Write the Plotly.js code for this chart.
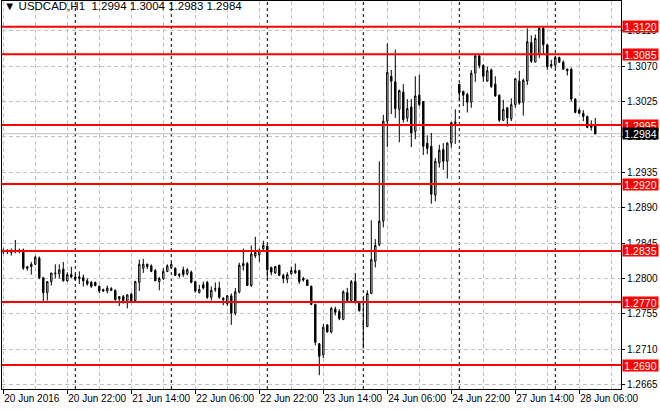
<!DOCTYPE html>
<html>
<head>
<meta charset="utf-8">
<script src="https://cdn.plot.ly/plotly-3.0.1.min.js"></script>
<style>html,body{margin:0;padding:0;background:#fff;}#chart{width:660px;height:410px;}</style>
</head>
<body>
<div id="chart"></div>
<script>
// ---- data ----
const symbol = 'USDCAD,H1';
const year = '2016';
const days = ['20 Jun', '21 Jun', '22 Jun', '23 Jun', '24 Jun', '27 Jun', '28 Jun'];
const firstHour = 6;   // first bar: 20 Jun 06:00
const lastHour = 10;   // last bar: 28 Jun 10:00

const open = [
1.2835,1.2834,1.2836,1.2834,1.2836,1.2836,1.2813,1.2815,1.2818,1.2826,
1.2801,1.2782,1.2796,1.2807,1.2806,1.2812,1.2797,1.2805,1.2802,1.2800,
1.2801,1.2797,1.2795,1.2795,1.2790,1.2786,1.2784,1.2787,1.2785,1.2774,
1.2777,1.2771,1.2780,1.2772,1.2795,1.2813,1.2818,1.2816,1.2810,1.2796,
1.2800,1.2809,1.2814,1.2813,1.2805,1.2811,1.2806,1.2808,1.2796,1.2782,
1.2792,1.2795,1.2776,1.2786,1.2788,1.2775,1.2768,1.2778,1.2756,1.2783,
1.2816,1.2819,1.2791,1.2829,1.2830,1.2838,1.2841,1.2814,1.2807,1.2817,
1.2804,1.2799,1.2806,1.2807,1.2810,1.2800,1.2798,1.2790,1.2767,1.2717,
1.2703,1.2741,1.2732,1.2761,1.2758,1.2748,1.2782,1.2772,1.2796,1.2770,
1.2742,1.2739,1.2781,1.2822,1.2843,1.2873,1.3000,1.3057,1.3050,1.3015,
1.3037,1.3004,1.3018,1.2987,1.3033,1.3025,1.2972,1.2968,1.2906,1.2947,
1.2964,1.2949,1.2972,1.2997,1.3047,1.3038,1.3034,1.3024,1.3061,1.3083,
1.3071,1.3051,1.3065,1.3047,1.3033,1.3001,1.3017,1.3003,1.3021,1.3051,
1.3024,1.3051,1.3100,1.3075,1.3085,1.3118,1.3097,1.3072,1.3071,1.3081,
1.3075,1.3066,1.3066,1.3028,1.3014,1.3010,1.3006,1.2996,1.2994];
const high = [
1.2838,1.2837,1.2838,1.2849,1.2838,1.2838,1.2816,1.2821,1.2829,1.2828,
1.2802,1.2796,1.2807,1.2818,1.2818,1.2821,1.2808,1.2815,1.2806,1.2809,
1.2805,1.2800,1.2797,1.2796,1.2791,1.2787,1.2791,1.2789,1.2786,1.2777,
1.2779,1.2780,1.2782,1.2797,1.2824,1.2825,1.2819,1.2818,1.2812,1.2802,
1.2813,1.2818,1.2820,1.2814,1.2807,1.2815,1.2813,1.2810,1.2797,1.2792,
1.2796,1.2797,1.2790,1.2795,1.2796,1.2776,1.2779,1.2781,1.2788,1.2820,
1.2838,1.2821,1.2842,1.2853,1.2838,1.2848,1.2843,1.2815,1.2816,1.2817,
1.2806,1.2808,1.2815,1.2819,1.2811,1.2802,1.2799,1.2791,1.2768,1.2718,
1.2742,1.2742,1.2764,1.2764,1.2761,1.2785,1.2788,1.2798,1.2807,1.2770,
1.2775,1.2785,1.2874,1.2850,1.2949,1.3008,1.3099,1.3065,1.3091,1.3040,
1.3047,1.3028,1.3028,1.3057,1.3059,1.3025,1.2982,1.2985,1.2953,1.2970,
1.2972,1.2973,1.2999,1.3015,1.3047,1.3038,1.3036,1.3065,1.3084,1.3084,
1.3072,1.3069,1.3067,1.3057,1.3034,1.3027,1.3018,1.3029,1.3054,1.3064,
1.3054,1.3118,1.3109,1.3110,1.3119,1.3119,1.3098,1.3078,1.3082,1.3082,
1.3077,1.3067,1.3068,1.3029,1.3016,1.3014,1.3007,1.3001,1.3004];
const low = [
1.2831,1.2831,1.2829,1.2832,1.2832,1.2811,1.2810,1.2805,1.2817,1.2799,
1.2771,1.2772,1.2791,1.2800,1.2800,1.2796,1.2796,1.2800,1.2798,1.2793,
1.2790,1.2791,1.2788,1.2790,1.2781,1.2783,1.2781,1.2784,1.2772,1.2765,
1.2768,1.2762,1.2770,1.2770,1.2784,1.2807,1.2812,1.2808,1.2797,1.2785,
1.2798,1.2808,1.2812,1.2803,1.2801,1.2802,1.2804,1.2794,1.2782,1.2781,
1.2786,1.2774,1.2772,1.2783,1.2774,1.2766,1.2765,1.2741,1.2753,1.2781,
1.2810,1.2791,1.2789,1.2826,1.2821,1.2836,1.2798,1.2804,1.2806,1.2803,
1.2794,1.2794,1.2805,1.2806,1.2793,1.2796,1.2791,1.2766,1.2715,1.2677,
1.2699,1.2731,1.2730,1.2753,1.2747,1.2747,1.2772,1.2770,1.2768,1.2758,
1.2711,1.2738,1.2780,1.2814,1.2841,1.2865,1.2967,1.3009,1.3004,1.2973,
1.2998,1.2999,1.2967,1.2977,1.3019,1.2957,1.2958,1.2895,1.2898,1.2941,
1.2938,1.2927,1.2966,1.2971,1.3026,1.3019,1.3011,1.3017,1.3050,1.3067,
1.3050,1.3050,1.3042,1.3031,1.2999,1.3000,1.2993,1.3000,1.3017,1.3021,
1.3007,1.3046,1.3074,1.3075,1.3080,1.3085,1.3065,1.3067,1.3067,1.3074,
1.3065,1.3058,1.3025,1.3010,1.3009,1.3000,1.2991,1.2988,1.2983];
const close = [
1.2834,1.2836,1.2833,1.2836,1.2835,1.2813,1.2815,1.2818,1.2827,1.2801,
1.2782,1.2796,1.2807,1.2806,1.2811,1.2797,1.2805,1.2802,1.2799,1.2802,
1.2797,1.2793,1.2790,1.2791,1.2784,1.2784,1.2788,1.2785,1.2773,1.2777,
1.2772,1.2779,1.2772,1.2796,1.2818,1.2818,1.2815,1.2809,1.2797,1.2800,
1.2809,1.2816,1.2818,1.2804,1.2804,1.2805,1.2811,1.2795,1.2784,1.2786,
1.2788,1.2776,1.2785,1.2787,1.2776,1.2773,1.2778,1.2756,1.2783,1.2817,
1.2819,1.2791,1.2831,1.2833,1.2836,1.2842,1.2811,1.2808,1.2815,1.2804,
1.2800,1.2805,1.2810,1.2810,1.2796,1.2798,1.2791,1.2767,1.2719,1.2701,
1.2738,1.2732,1.2762,1.2757,1.2749,1.2783,1.2772,1.2796,1.2770,1.2759,
1.2742,1.2781,1.2824,1.2842,1.2873,1.3000,1.3062,1.3051,1.3016,1.3039,
1.3002,1.3016,1.2985,1.3032,1.3021,1.2968,1.2965,1.2907,1.2949,1.2963,
1.2949,1.2972,1.2998,1.2999,1.3036,1.3033,1.3024,1.3061,1.3083,1.3071,
1.3057,1.3064,1.3044,1.3032,1.3001,1.3015,1.3004,1.3021,1.3054,1.3023,
1.3052,1.3101,1.3076,1.3105,1.3118,1.3097,1.3069,1.3070,1.3081,1.3075,
1.3066,1.3064,1.3028,1.3011,1.3010,1.3006,1.2992,1.2992,1.2984];

const levels = [1.3120, 1.3085, 1.2995, 1.2920, 1.2835, 1.2770, 1.2690];
const currentPrice = 1.2984;
const priceTicks = [1.2665, 1.2710, 1.2755, 1.2800, 1.2845, 1.2890, 1.2935, 1.2980, 1.3025, 1.3070, 1.3115];
const labelEvery = 16;
const gridEvery = 8;

// ---- build time categories ----
const times = [];
days.forEach((d, di) => {
  const h0 = di === 0 ? firstHour : 0;
  const h1 = di === days.length - 1 ? lastHour : 23;
  for (let h = h0; h <= h1; h++) times.push(d + ' ' + String(h).padStart(2, '0') + ':00');
});
const idx = times.map((t, i) => i);

const tickvals = idx.filter(i => i % labelEvery === 0);
const ticktext = tickvals.map(i => i === 0 ? times[i].slice(0, 6) + ' ' + year : times[i]);

const axisFont = {family: 'Liberation Sans, Arial, sans-serif', size: 10, color: '#000'};
const GRID = '#c0c0c0';

const shapes = [];
// day separators
times.forEach((t, i) => {
  if (i > 0 && t.endsWith(' 00:00')) {
    shapes.push({type: 'line', xref: 'x', yref: 'paper', x0: i, x1: i, y0: 0, y1: 1,
      line: {color: '#000', width: 1, dash: '3px,3px'}, layer: 'below'});
  }
});
// current price line
shapes.push({type: 'line', xref: 'paper', yref: 'y', x0: 0, x1: 1, y0: currentPrice, y1: currentPrice,
  line: {color: '#c0c0c0', width: 1}, layer: 'below'});
// horizontal levels
levels.forEach(v => shapes.push({type: 'line', xref: 'paper', yref: 'y', x0: 0, x1: 1, y0: v, y1: v,
  line: {color: '#ff0000', width: 2}, layer: 'above'}));

const boxFont = {family: 'Liberation Sans, Arial, sans-serif', size: 10.5, color: '#fff'};
const annotations = [];
levels.forEach(v => annotations.push({
  xref: 'paper', yref: 'y', x: 1, y: v, xanchor: 'left', yanchor: 'middle', xshift: 1,
  text: v.toFixed(4), showarrow: false, bgcolor: '#ff0000', font: boxFont,
  width: 33, height: 9, borderpad: 1, align: 'center'
}));
annotations.push({
  xref: 'paper', yref: 'y', x: 1, y: currentPrice, xanchor: 'left', yanchor: 'middle', xshift: 1,
  text: currentPrice.toFixed(4), showarrow: false, bgcolor: '#000', font: boxFont,
  width: 33, height: 9, borderpad: 1, align: 'center'
});

const trace = {
  type: 'candlestick', x: idx, open: open, high: high, low: low, close: close,
  increasing: {line: {color: '#000', width: 1}, fillcolor: '#ffffff'},
  decreasing: {line: {color: '#000', width: 1}, fillcolor: '#000000'},
  whiskerwidth: 0, hoverinfo: 'none', showlegend: false
};

const last = open.length - 1;
const titleText = '\u25BC ' + symbol + '  ' + [open[last], high[last], low[last], close[last]].map(v => v.toFixed(4)).join(' ');

const layout = {
  width: 660, height: 410,
  margin: {l: 2, r: 39, t: 1, b: 21, pad: 0},
  paper_bgcolor: '#fff', plot_bgcolor: '#fff',
  boxgap: 0.5,
  title: {text: titleText, x: 4 / 660, xanchor: 'left', xref: 'container', y: 1 - 2 / 410, yanchor: 'top', yref: 'container',
    font: {family: 'Liberation Sans, Arial, sans-serif', size: 11.5, color: '#000'}, pad: {t: 0, l: 0, r: 0, b: 0}},
  xaxis: {
    range: [-0.325, 154.425], showline: true, mirror: true, linecolor: '#000', linewidth: 1,
    rangeslider: {visible: false}, zeroline: false,
    tickmode: 'array', tickvals: tickvals, ticktext: ticktext, tickangle: 0, automargin: false,
    ticks: 'outside', ticklen: 4, tickcolor: '#000', ticklabelposition: 'outside right',
    tickfont: axisFont,
    showgrid: true, gridcolor: GRID, griddash: '4px,3px', gridwidth: 1,
    minor: {tickmode: 'linear', tick0: 0, dtick: gridEvery, showgrid: true, gridcolor: GRID, griddash: '4px,3px', ticks: ''},
    fixedrange: true
  },
  yaxis: {
    range: [1.26595, 1.31527], side: 'right', showline: true, mirror: true, linecolor: '#000', linewidth: 1,
    zeroline: false, tickmode: 'array', tickvals: priceTicks, ticktext: priceTicks.map(v => v.toFixed(4)),
    ticks: 'outside', ticklen: 3, tickcolor: '#000', tickfont: axisFont, automargin: false,
    showgrid: true, gridcolor: GRID, griddash: '4px,3px', gridwidth: 1, fixedrange: true
  },
  shapes: shapes,
  annotations: annotations
};

Plotly.newPlot('chart', [trace], layout, {displayModeBar: false, staticPlot: true});
</script>
</body>
</html>
